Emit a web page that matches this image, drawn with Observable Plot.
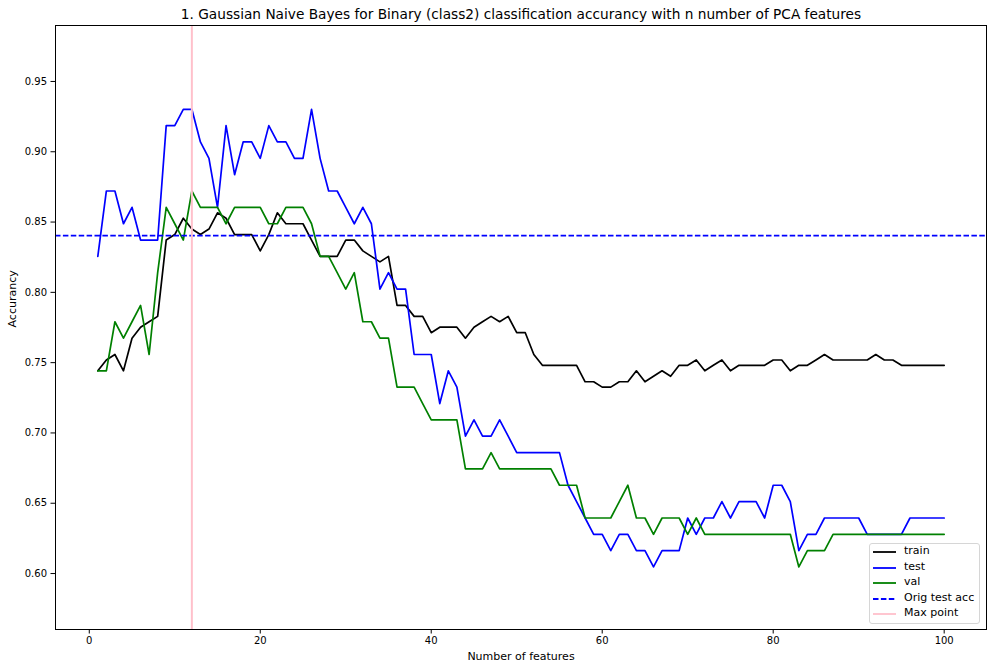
<!DOCTYPE html>
<html>
<head>
<meta charset="utf-8">
<script src="https://cdn.jsdelivr.net/npm/d3@7"></script>
<script src="https://cdn.jsdelivr.net/npm/@observablehq/plot@0.6"></script>
<style>
  html, body { margin: 0; padding: 0; background: white; }
  #wrap { position: relative; width: 993px; height: 669px; font-family: "DejaVu Sans", sans-serif; }
  #legend { position: absolute; left: 869px; top: 543px; width: 111px; height: 81px; box-sizing: border-box;
            border: 1px solid #d6d6d6; border-radius: 3px; background: rgba(255,255,255,0.85); }
  .row { position: absolute; left: 0; height: 14px; font-size: 11px; color: black; white-space: nowrap; }
  .row svg { position: absolute; left: 3px; top: 0; }
  .row span { position: absolute; left: 34px; top: -1px; line-height: 14px; }
</style>
</head>
<body>
<div id="wrap"><div id="legend"></div></div>
<script>
const title = "1. Gaussian Naive Bayes for Binary (class2) classification accurancy with n number of PCA features";
const xLabel = "Number of features";
const yLabel = "Accurancy";

const train = [
0.7442,0.7519,0.7558,0.7442,0.7674,0.7752,0.7791,0.7829,0.8372,0.8411,
0.8527,0.8450,0.8411,0.8450,0.8566,0.8527,0.8411,0.8411,0.8411,0.8295,
0.8411,0.8566,0.8488,0.8488,0.8488,0.8372,0.8256,0.8256,0.8256,0.8372,
0.8372,0.8295,0.8256,0.8217,0.8256,0.7907,0.7907,0.7829,0.7829,0.7713,
0.7752,0.7752,0.7752,0.7674,0.7752,0.7791,0.7829,0.7791,0.7829,0.7713,
0.7713,0.7558,0.7481,0.7481,0.7481,0.7481,0.7481,0.7364,0.7364,0.7326,
0.7326,0.7364,0.7364,0.7442,0.7364,0.7403,0.7442,0.7403,0.7481,0.7481,
0.7519,0.7442,0.7481,0.7519,0.7442,0.7481,0.7481,0.7481,0.7481,0.7519,
0.7519,0.7442,0.7481,0.7481,0.7519,0.7558,0.7519,0.7519,0.7519,0.7519,
0.7519,0.7558,0.7519,0.7519,0.7481,0.7481,0.7481,0.7481,0.7481,0.7481];

const test = [
0.8256,0.8721,0.8721,0.8488,0.8605,0.8372,0.8372,0.8372,0.9186,0.9186,
0.9302,0.9302,0.9070,0.8953,0.8605,0.9186,0.8837,0.9070,0.9070,0.8953,
0.9186,0.9070,0.9070,0.8953,0.8953,0.9302,0.8953,0.8721,0.8721,0.8605,
0.8488,0.8605,0.8488,0.8023,0.8140,0.8023,0.8023,0.7558,0.7558,0.7558,
0.7209,0.7442,0.7326,0.6977,0.7093,0.6977,0.6977,0.7093,0.6977,0.6860,
0.6860,0.6860,0.6860,0.6860,0.6860,0.6628,0.6512,0.6395,0.6279,0.6279,
0.6163,0.6279,0.6279,0.6163,0.6163,0.6047,0.6163,0.6163,0.6163,0.6395,
0.6279,0.6395,0.6395,0.6512,0.6395,0.6512,0.6512,0.6512,0.6395,0.6628,
0.6628,0.6512,0.6163,0.6279,0.6279,0.6395,0.6395,0.6395,0.6395,0.6395,
0.6279,0.6279,0.6279,0.6279,0.6279,0.6395,0.6395,0.6395,0.6395,0.6395];

const val = [
0.7442,0.7442,0.7791,0.7674,0.7791,0.7907,0.7558,0.8140,0.8605,0.8488,
0.8372,0.8721,0.8605,0.8605,0.8605,0.8488,0.8605,0.8605,0.8605,0.8605,
0.8488,0.8488,0.8605,0.8605,0.8605,0.8488,0.8256,0.8256,0.8140,0.8023,
0.8140,0.7791,0.7791,0.7674,0.7674,0.7326,0.7326,0.7326,0.7209,0.7093,
0.7093,0.7093,0.7093,0.6744,0.6744,0.6744,0.6860,0.6744,0.6744,0.6744,
0.6744,0.6744,0.6744,0.6744,0.6628,0.6628,0.6628,0.6395,0.6395,0.6395,
0.6395,0.6512,0.6628,0.6395,0.6395,0.6279,0.6395,0.6395,0.6395,0.6279,
0.6395,0.6279,0.6279,0.6279,0.6279,0.6279,0.6279,0.6279,0.6279,0.6279,
0.6279,0.6279,0.6047,0.6163,0.6163,0.6163,0.6279,0.6279,0.6279,0.6279,
0.6279,0.6279,0.6279,0.6279,0.6279,0.6279,0.6279,0.6279,0.6279,0.6279];

const origTestAcc = 0.8404;
const maxPoint = 12;

const xTicks = [0, 20, 40, 60, 80, 100];
const yTicks = [0.60, 0.65, 0.70, 0.75, 0.80, 0.85, 0.90, 0.95];

const seriesNames = ["train", "test", "val"];
const seriesValues = [train, test, val];
const seriesColors = ["black", "blue", "green"];

const legendItems = [
  {label: "train", color: "black", dash: null},
  {label: "test", color: "blue", dash: null},
  {label: "val", color: "green", dash: null},
  {label: "Orig test acc", color: "blue", dash: "5.5,2.4"},
  {label: "Max point", color: "pink", dash: null}
];

const lineMarks = seriesValues.map((vals, si) =>
  Plot.line(vals.map((v, i) => ({n: i + 1, v})), {x: "n", y: "v", stroke: seriesColors[si], strokeWidth: 1.7})
);

const chart = Plot.plot({
  width: 993,
  height: 669,
  marginLeft: 55,
  marginRight: 7,
  marginTop: 25,
  marginBottom: 40,
  style: {fontFamily: "DejaVu Sans", fontSize: "10px", color: "black", background: "white"},
  x: {domain: [-3.95, 104.95]},
  y: {domain: [0.5602, 0.9898]},
  marks: [
    ...lineMarks,
    Plot.ruleY([origTestAcc], {stroke: "blue", strokeWidth: 1.7, strokeDasharray: "5.5,2.4"}),
    Plot.ruleX([maxPoint], {stroke: "pink", strokeWidth: 2}),
    Plot.frame({stroke: "black", strokeWidth: 1}),
    Plot.axisX({ticks: xTicks, tickSize: 4.5, tickPadding: 3, label: null, fontSize: 10, tickFormat: d3.format("d")}),
    Plot.axisY({ticks: yTicks, tickSize: 4.5, tickPadding: 4, label: null, fontSize: 10, tickFormat: d3.format(".2f")}),
    Plot.text([title], {frameAnchor: "top", lineAnchor: "middle", dy: -11, fontSize: 13.7, fill: "black"}),
    Plot.text([xLabel], {frameAnchor: "bottom", lineAnchor: "middle", dy: 27, fontSize: 11, fill: "black"}),
    Plot.text([yLabel], {frameAnchor: "left", dx: -43, rotate: -90, fontSize: 11, fill: "black"})
  ]
});

const wrap = document.getElementById("wrap");
wrap.insertBefore(chart, wrap.firstChild);

const legend = document.getElementById("legend");
legendItems.forEach((item, i) => {
  const row = document.createElement("div");
  row.className = "row";
  row.style.top = (1 + i * 15.6) + "px";
  row.style.width = "100%";
  const dash = item.dash ? ` stroke-dasharray="${item.dash}"` : "";
  row.innerHTML = `<svg width="24" height="14"><line x1="0" x2="23" y1="7" y2="7" stroke="${item.color}" stroke-width="1.8"${dash}/></svg><span>${item.label}</span>`;
  legend.appendChild(row);
});
</script>
</body>
</html>
